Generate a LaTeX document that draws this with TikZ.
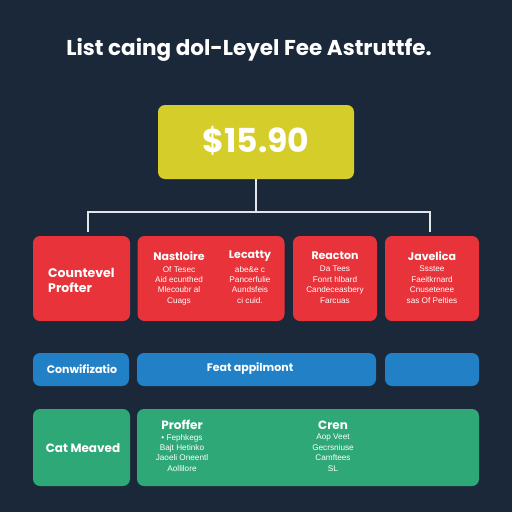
\documentclass[tikz,border=0pt]{standalone}
\usepackage{fontspec}
\setmainfont{Poppins}
\newfontfamily\smallf{Liberation Sans}
\definecolor{bgc}{HTML}{1B2839}
\definecolor{redc}{HTML}{E8333A}
\definecolor{bluec}{HTML}{2180C6}
\definecolor{greenc}{HTML}{2FA878}
\definecolor{yelc}{HTML}{D5CD2A}
\definecolor{linec}{HTML}{E2E6EA}
\tikzset{
  boxbase/.style={rounded corners=7pt, inner sep=0pt, draw=none},
  redbox/.style={boxbase, fill=redc},
  bluebox/.style={boxbase, fill=bluec},
  greenbox/.style={boxbase, fill=greenc},
  hd/.style={text=white, font=\fontsize{11}{12}\selectfont\bfseries, inner sep=0pt},
  sm/.style={text=white, font=\smallf\fontsize{8.2}{10.4}\selectfont, align=center, inner sep=0pt},
  conn/.style={draw=linec, line width=2pt}
}
\begin{document}
\begin{tikzpicture}[x=1pt,y=-1pt]
\fill[bgc] (0,0) rectangle (512,512);
\useasboundingbox (0,0) rectangle (512,512);
% title
\node[text=white, font=\fontsize{21.5}{23}\selectfont\bfseries, inner sep=0pt] (title) at (249,50) {List caing dol-Leyel Fee Astruttfe.};
% top box
\node[boxbase, fill=yelc, minimum width=196pt, minimum height=74pt] (top) at (256,142) {};
\node[text=white, font=\fontsize{33}{36}\selectfont\bfseries, inner sep=0pt] (price) at (256,141) {\$15.90};
% red row
\node[redbox, minimum width=97pt, minimum height=85pt] (r1) at (81.5,278.5) {};
\node[redbox, minimum width=147pt, minimum height=85pt] (r2) at (211,278.5) {};
\node[redbox, minimum width=84pt, minimum height=85pt] (r3) at (335,278.5) {};
\node[redbox, minimum width=94pt, minimum height=85pt] (r4) at (432,278.5) {};
% connectors
\coordinate (jC) at (256,212);
\coordinate (jL) at (88,212);
\coordinate (jR) at (430,212);
\coordinate (dL) at (88,232);
\coordinate (dR) at (430,232);
\draw[conn] (top.south) -- (jC);
\draw[conn, line join=miter] (dL) -- (jL) -- (jR) -- (dR);
% red texts
\node[hd, align=left, anchor=west, font=\fontsize{12.5}{15}\selectfont\bfseries] (t1) at (48,280) {Countevel\\Profter};
\node[hd] (t2a) at (179,256) {Nastloire};
\node[sm, anchor=north] (t2as) at (179,266) {Of Tesec\\Aid ecunthed\\Mlecoubr al\\Cuags};
\node[hd] (t2b) at (250,256) {Lecatty};
\node[sm, anchor=north] (t2bs) at (250,266) {abe\&e c\\Pancerfulie\\Aundsfeis\\ci cuid.};
\node[hd] (t3) at (335,256) {Reacton};
\node[sm, anchor=north] (t3s) at (335,266) {Da Tees\\Fonrt hlbard\\Candeceasbery\\Farcuas};
\node[hd] (t4) at (432,256) {Javelica};
\node[sm, anchor=north] (t4s) at (432,266) {Ssstee\\Faeitkrnard\\Cnusetenee\\sas Of Pelties};
% blue row
\node[bluebox, minimum width=96pt, minimum height=33pt] (b1) at (81,369.5) {};
\node[bluebox, minimum width=239pt, minimum height=33pt] (b2) at (256.5,369.5) {};
\node[bluebox, minimum width=94pt, minimum height=33pt] (b3) at (432,369.5) {};
\node[hd] (bt1) at (82,369) {Conwifizatio};
\node[hd] (bt2) at (250,369) {Feat appilmont};
% green row
\node[greenbox, minimum width=97pt, minimum height=77pt] (g1) at (81.5,447.5) {};
\node[greenbox, minimum width=342pt, minimum height=77pt] (g2) at (308,447.5) {};
\node[hd, font=\fontsize{12}{14}\selectfont\bfseries] (gt1) at (83,448) {Cat Meaved};
\node[hd, font=\fontsize{12}{14}\selectfont\bfseries] (gt2a) at (182,425) {Proffer};
\node[sm, anchor=north] (gt2as) at (182,434) {• Fephkegs\\Bajt Hetinko\\Jaoeli Oneentl\\Aollilore};
\node[hd, font=\fontsize{12}{14}\selectfont\bfseries] (gt2b) at (333,425) {Cren};
\node[sm, anchor=north] (gt2bs) at (333,434) {Aop Veet\\Gecrsniuse\\Camftees\\SL};
\end{tikzpicture}
\end{document}
